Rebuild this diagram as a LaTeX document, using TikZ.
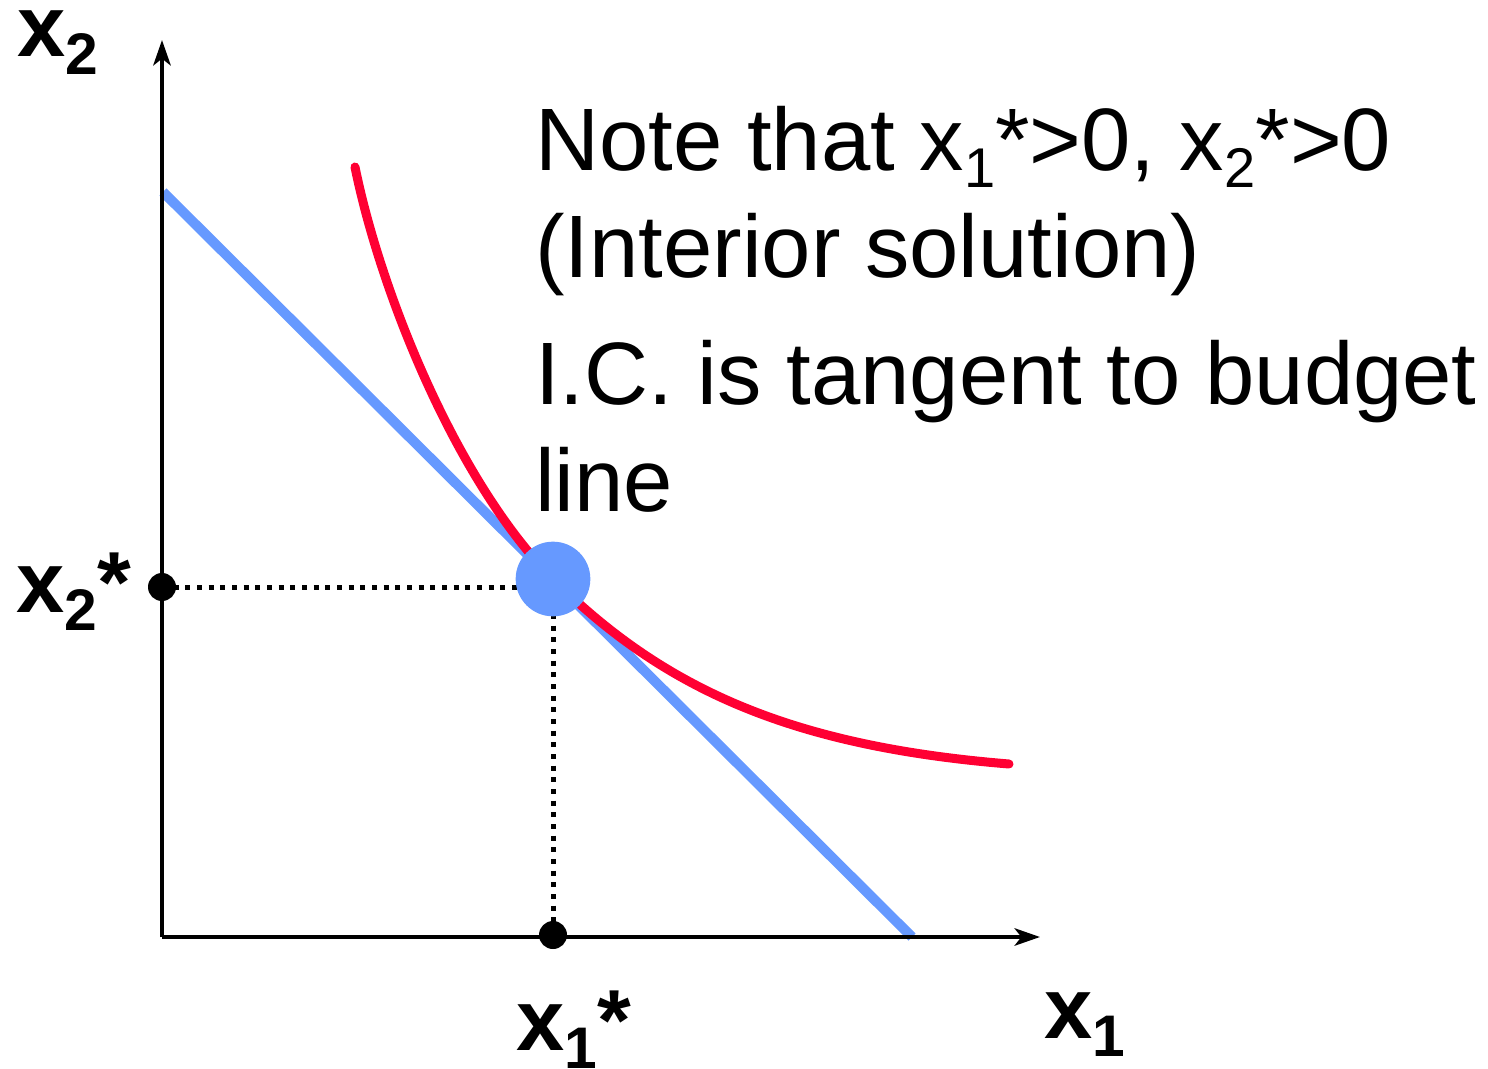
\documentclass[tikz,border=0pt]{standalone}
\usepackage{fontspec}
\setmainfont{Liberation Sans}
\usetikzlibrary{arrows.meta}
\definecolor{budget}{HTML}{6699FF}
\definecolor{icred}{HTML}{FF0033}
\newcommand{\tsub}[1]{\raisebox{-12.75pt}{\fontsize{42}{42}\selectfont #1}}
\newcommand{\bsub}[1]{\raisebox{-13.5pt}{\fontsize{44}{44}\selectfont\bfseries #1}}
\tikzset{
  axisline/.style={line width=3.2pt, -{Stealth[length=19pt,width=13pt,inset=5pt]}},
  budgetline/.style={line width=7.5pt, draw=budget},
  icurve/.style={line width=6.75pt, draw=icred, line cap=round},
  guide/.style={line width=3.75pt, dash pattern=on 3.75pt off 5pt},
  blackdot/.style={circle, fill=black, inner sep=0pt, minimum size=21pt},
  optdot/.style={circle, fill=budget, inner sep=0pt, minimum size=56pt},
  axlab/.style={font=\fontsize{65}{65}\selectfont\bfseries, inner sep=0pt, anchor=base west},
  notetext/.style={font=\fontsize{66.5}{80}\selectfont, inner sep=0pt, anchor=base west}
}
\begin{document}
\begin{tikzpicture}[x=0.75pt, y=-0.75pt]
\useasboundingbox (0,0) rectangle (1488,1069);
% coordinates
\coordinate (O) at (162,937);
\coordinate (ytop) at (162,40);
\coordinate (xend) at (1040,937);
\coordinate (bl1) at (163,192);
\coordinate (bl2) at (912,937);
\coordinate (ic1) at (355,167);
\coordinate (opt) at (553,579);
\coordinate (ic2) at (1009,764);
% budget line
\draw[budgetline] (bl1) -- (bl2);
% axes
\draw[axisline] (O) -- (ytop);
\draw[axisline] (O) -- (xend);
% indifference curve
\draw[icurve] (ic1) .. controls (380,290) and (455,480) .. (opt)
  .. controls (663,688) and (789,746) .. (ic2);
% black dots
\node[blackdot] (d2) at (162,587) {};
\node[blackdot] (d1) at (553,935) {};
% guides
\draw[guide] (d2.center) -- (opt |- d2.center);
\draw[guide] (opt) -- (d1.center);
% optimum
\node[optdot] (optd) at (opt) {};
% axis labels
\node[axlab] (lx2) at (17,57) {x\bsub{2}};
\node[axlab] (lx1) at (1044,1038) {x\bsub{1}};
\node[axlab] (lx2s) at (16,612) {x\bsub{2}*};
\node[axlab] (lx1s) at (516,1050) {x\bsub{1}*};
% note text
\node[notetext] (t1) at (535,171) {Note that x\tsub{1}*>0, x\tsub{2}*>0};
\node[notetext] (t2) at (535,278) {(Interior solution)};
\node[notetext] (t3) at (535,405) {I.C. is tangent to budget};
\node[notetext] (t4) at (535,512) {line};
\end{tikzpicture}
\end{document}
